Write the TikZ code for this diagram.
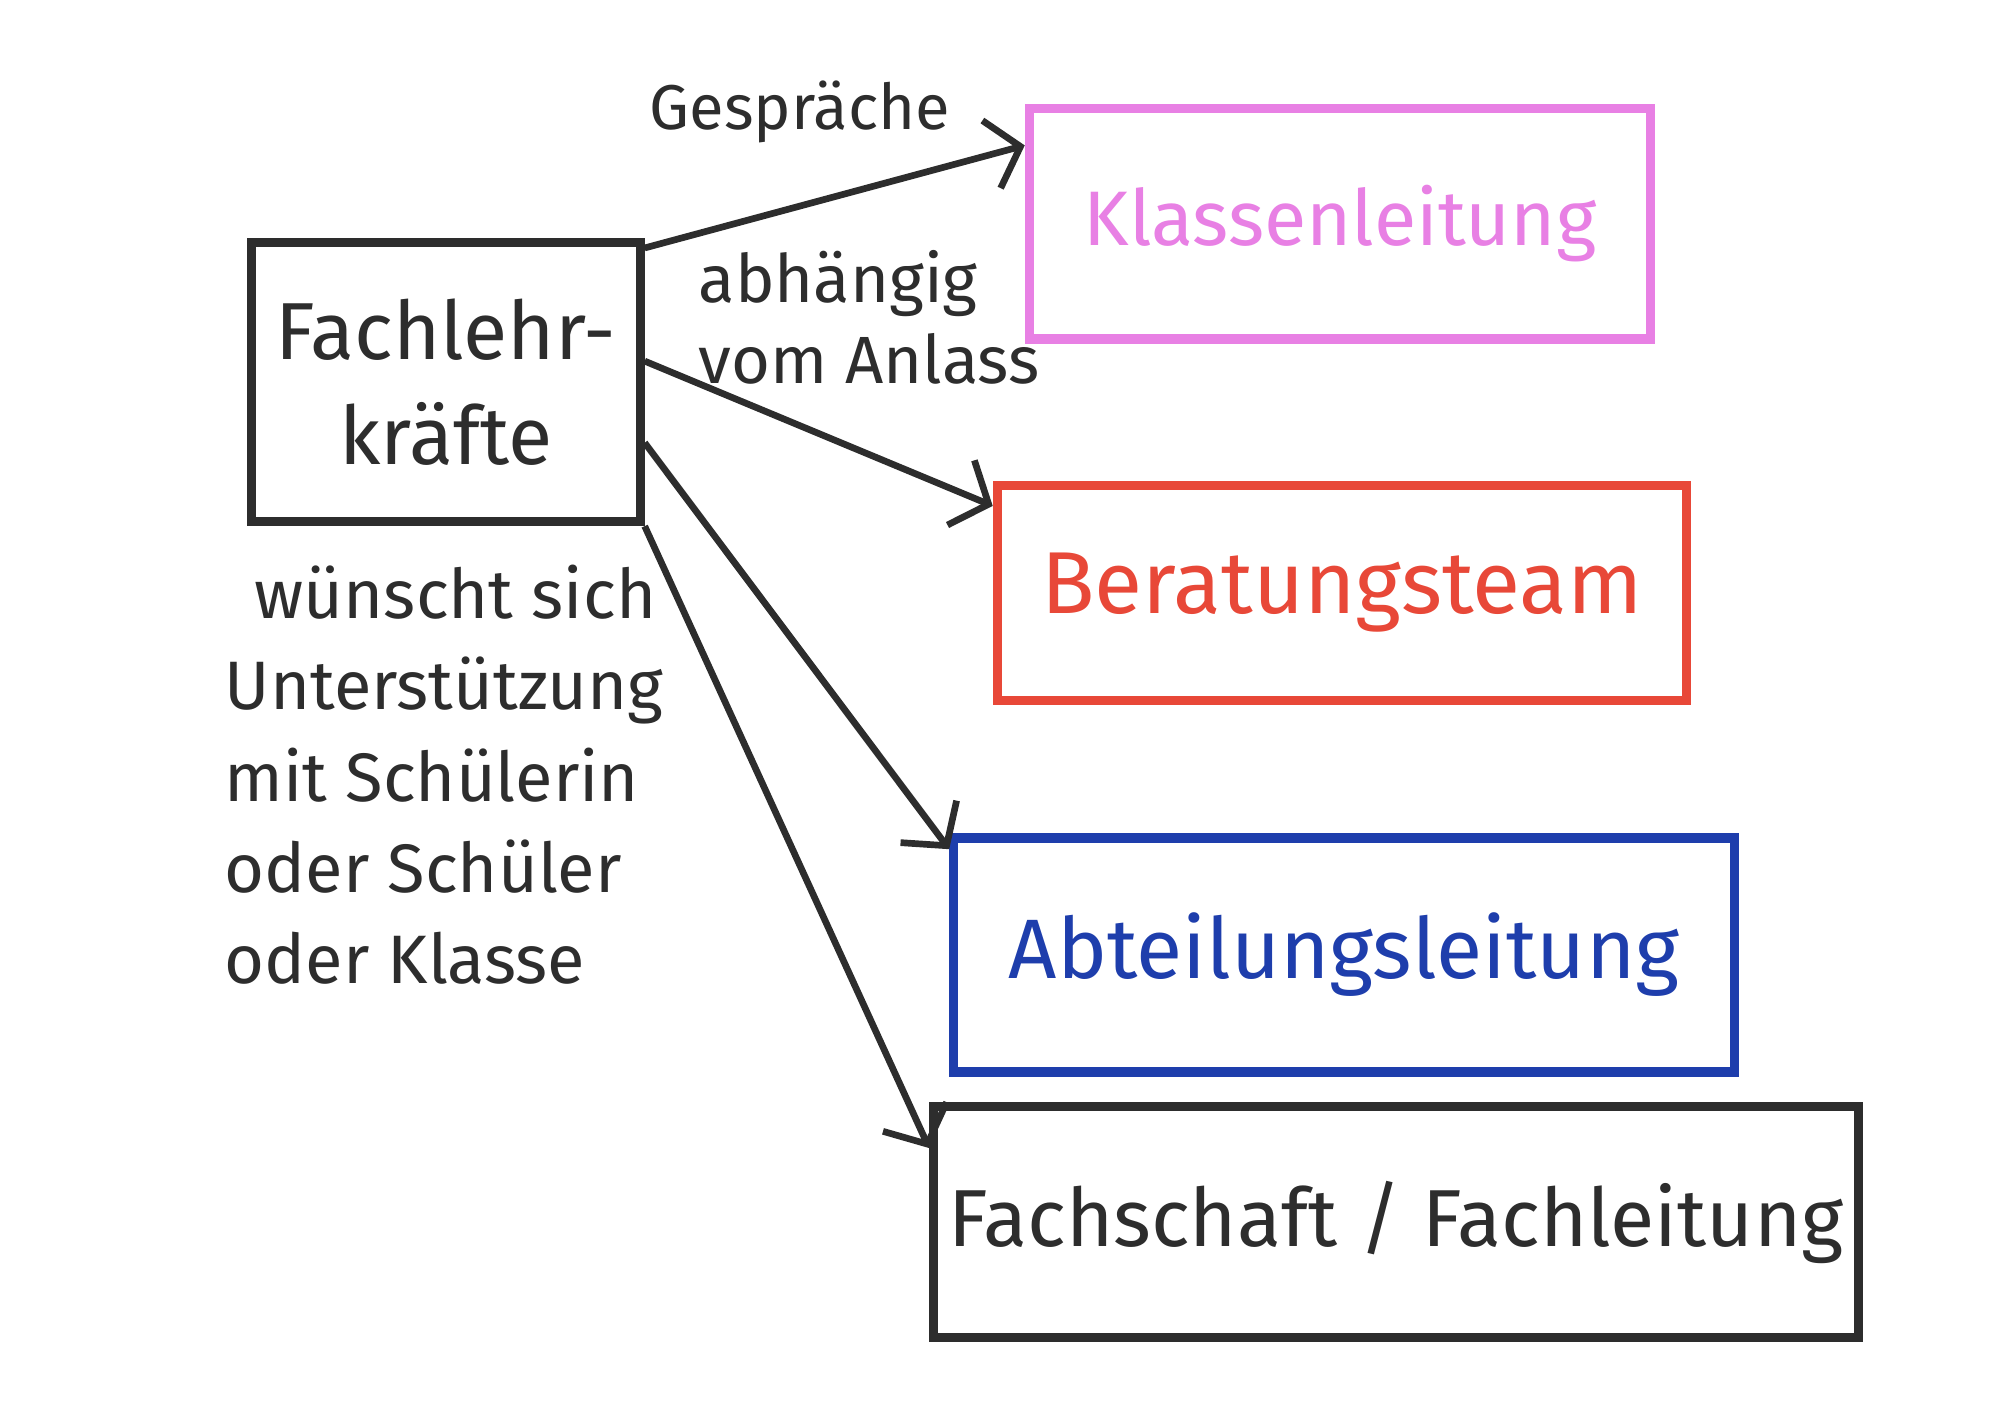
\documentclass[tikz,border=0pt]{standalone}
\usepackage{fontspec}
\setmainfont{Fira Sans}
\usepackage{tikz}
\usetikzlibrary{arrows.meta}
\usepackage{xcolor}
\definecolor{rosa}{RGB}{232,128,228}
\definecolor{rot}{RGB}{232,72,56}
\definecolor{blau}{RGB}{30,62,172}
\definecolor{stift}{RGB}{45,45,45}

\begin{document}
\begin{tikzpicture}[x = 0.01cm, y = -0.01cm,
	box/.style = {draw, line width = 2.6pt, inner sep = 0pt, align = center},
	pfeil/.style = {line width = 1.9pt, draw = stift, -{Straight Barb[length = 3mm, width = 7mm, line width = 1.9pt]}}]
	
	\useasboundingbox (0,0) rectangle (2008,1422);
	
	\node[box, draw = stift, text = stift, minimum width = 3.88cm, minimum height = 2.79cm, font = \fontsize{23}{30}\selectfont] (fach) at (446,382) {Fachlehr-\\kräfte};
	
	\node[box, draw = rosa, text = rosa, minimum width = 6.21cm, minimum height = 2.30cm, font = \fontsize{22}{26}\selectfont] (klassen) at (1340,224) {Klassenleitung};
	\node[box, draw = rot, text = rot, minimum width = 6.89cm, minimum height = 2.15cm, font = \fontsize{25}{30}\selectfont] (berat) at (1342,593) {Beratungsteam};
	\node[box, draw = blau, text = blau, minimum width = 7.80cm, minimum height = 2.34cm, font = \fontsize{24}{30}\selectfont] (abt) at (1344,955) {Abteilungsleitung};
	\node[box, draw = stift, text = stift, minimum width = 9.24cm, minimum height = 2.31cm, font = \fontsize{23}{30}\selectfont] (fachsch) at (1396,1222) {Fachschaft / Fachleitung};
	
	\draw[pfeil] (fach.34) -- (klassen.166);
	\draw[pfeil] (fach.6) -- (berat.166);
	\draw[pfeil] (fach.-17) -- (abt.165);
	\draw[pfeil] (fach.south east) -- (fachsch.171);
	
	\node[text = stift, font = \fontsize{18}{20}\selectfont] (gespr) at (800,112) {Gespräche};
	\node[anchor = north west, inner sep = 0pt, align = left, text = stift, font = \fontsize{19}{23}\selectfont] (anlass) at (698,250) {abhängig\\vom Anlass};
	\node[anchor = north west, inner sep = 0pt, align = left, text = stift, font = \fontsize{19.5}{26}\selectfont] (wunsch) at (224,564) {\hspace{0.3cm}wünscht sich\\Unterstützung\\mit Schülerin\\oder Schüler\\oder Klasse};
\end{tikzpicture}
\end{document}
